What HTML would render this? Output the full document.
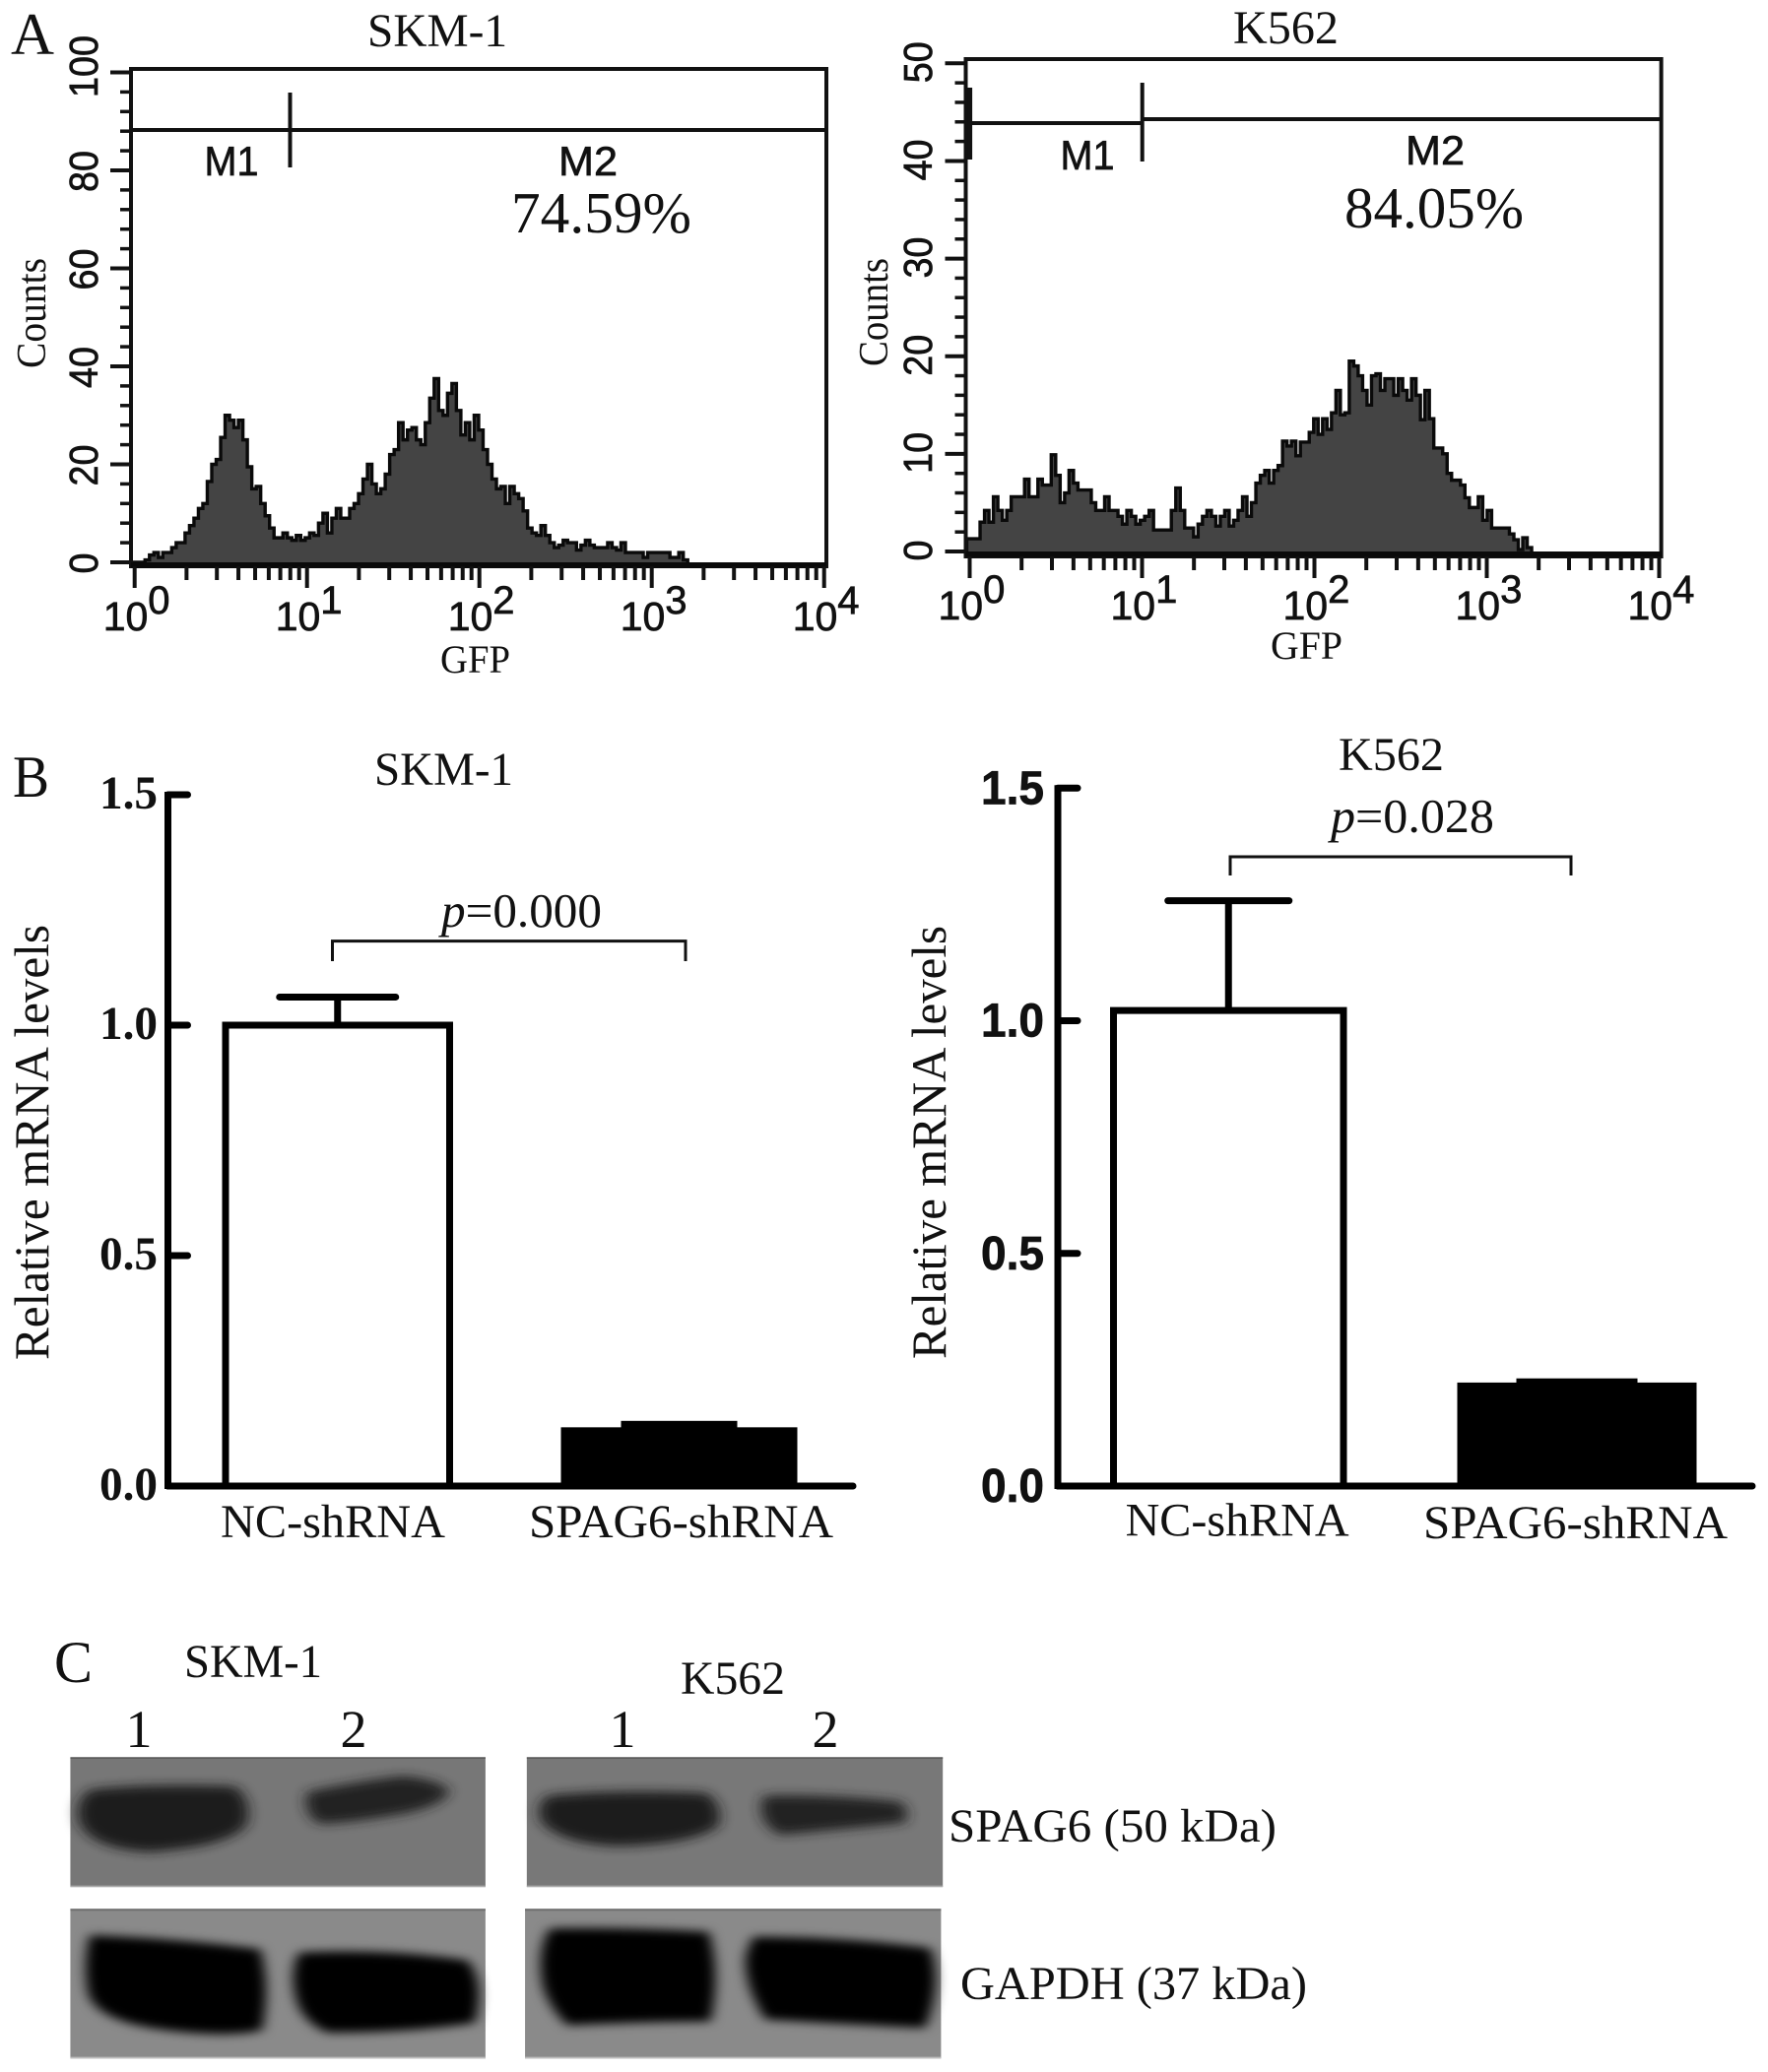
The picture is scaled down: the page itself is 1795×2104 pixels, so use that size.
<!DOCTYPE html>
<html lang="en">
<head>
<meta charset="utf-8">
<title>SPAG6 knockdown in SKM-1 and K562 cells</title>
<style>
  html, body { margin: 0; padding: 0; background: #fff; }
  svg { display: block; }
  text { font-family: "Liberation Serif", serif; fill: #111; }
  .sans { font-family: "Liberation Sans", sans-serif; stroke: #111; stroke-width: 0.7; }
</style>
</head>
<body>
<svg id="figure" xmlns="http://www.w3.org/2000/svg" width="1795" height="2104" viewBox="0 0 1795 2104">
  <defs>
    <filter id="blurBand" x="-30%" y="-30%" width="160%" height="160%"><feGaussianBlur stdDeviation="8 16"/></filter>
    <filter id="blurBandDark" x="-30%" y="-30%" width="160%" height="160%"><feGaussianBlur stdDeviation="7 14"/></filter>
  </defs>
  <rect width="1795" height="2104" fill="#fff"/>

  <!-- Panel labels -->
  <text x="11" y="55" font-size="60" textLength="44" lengthAdjust="spacingAndGlyphs">A</text>
  <text x="13" y="809" font-size="60" textLength="37" lengthAdjust="spacingAndGlyphs">B</text>
  <text x="55" y="1708" font-size="60" textLength="39" lengthAdjust="spacingAndGlyphs">C</text>

  <!-- Panel A static text -->
  <text x="373" y="47" font-size="48" textLength="142" lengthAdjust="spacingAndGlyphs">SKM-1</text>
  <text transform="translate(46,318) rotate(-90)" text-anchor="middle" font-size="42" textLength="112" lengthAdjust="spacingAndGlyphs">Counts</text>
  <text x="447" y="683" font-size="40" textLength="71" lengthAdjust="spacingAndGlyphs">GFP</text>
  <text class="sans" x="235" y="178" text-anchor="middle" font-size="42" textLength="55" lengthAdjust="spacingAndGlyphs">M1</text>
  <text class="sans" x="597" y="178" text-anchor="middle" font-size="42" textLength="60" lengthAdjust="spacingAndGlyphs">M2</text>
  <text x="519" y="236" font-size="59" textLength="183" lengthAdjust="spacingAndGlyphs">74.59%</text>

  <text x="1252" y="44" font-size="48" textLength="107" lengthAdjust="spacingAndGlyphs">K562</text>
  <text transform="translate(901,317) rotate(-90)" text-anchor="middle" font-size="42" textLength="110" lengthAdjust="spacingAndGlyphs">Counts</text>
  <text x="1290" y="669" font-size="40" textLength="73" lengthAdjust="spacingAndGlyphs">GFP</text>
  <text class="sans" x="1104" y="172" text-anchor="middle" font-size="42" textLength="55" lengthAdjust="spacingAndGlyphs">M1</text>
  <text class="sans" x="1457" y="167" text-anchor="middle" font-size="42" textLength="60" lengthAdjust="spacingAndGlyphs">M2</text>
  <text x="1365" y="231" font-size="59" textLength="182" lengthAdjust="spacingAndGlyphs">84.05%</text>

  <!-- Panel B static text -->
  <text x="380" y="797" font-size="48" textLength="141" lengthAdjust="spacingAndGlyphs">SKM-1</text>
  <text transform="translate(49,1160) rotate(-90)" text-anchor="middle" font-size="50" textLength="442" lengthAdjust="spacingAndGlyphs">Relative mRNA levels</text>
  <text x="448" y="941" font-size="49" textLength="163" lengthAdjust="spacingAndGlyphs"><tspan font-style="italic">p</tspan>=0.000</text>

  <text x="1359" y="782" font-size="48" textLength="107" lengthAdjust="spacingAndGlyphs">K562</text>
  <text transform="translate(960,1160) rotate(-90)" text-anchor="middle" font-size="50" textLength="440" lengthAdjust="spacingAndGlyphs">Relative mRNA levels</text>
  <text x="1351" y="845" font-size="49" textLength="166" lengthAdjust="spacingAndGlyphs"><tspan font-style="italic">p</tspan>=0.028</text>

  <!-- Panel C western blots -->
  <g>
    <g transform="translate(0,1640) scale(0.8929,0.3333)">
      <rect x="80" y="433" width="472" height="395" fill="#777"/>
      <rect x="80" y="433" width="472" height="5" fill="#5c5c5c"/>
      <rect x="80" y="824" width="472" height="5" fill="#a8a8a8"/>
      <rect x="599" y="433" width="473" height="395" fill="#787878"/>
      <rect x="599" y="433" width="473" height="5" fill="#5c5c5c"/>
      <rect x="599" y="824" width="473" height="5" fill="#a8a8a8"/>
      <path filter="url(#blurBand)" fill="#1f1f1f" d="M102 532 Q170 512 268 522 Q288 570 280 640 Q262 705 170 722 Q102 712 90 630 Q84 570 102 532 Z"/>
      <path filter="url(#blurBand)" fill="#242424" d="M350 538 Q400 510 458 490 Q500 502 510 532 Q510 572 465 602 Q400 634 362 636 Q342 595 350 538 Z"/>
      <path filter="url(#blurBand)" fill="#1e1e1e" d="M622 550 Q700 530 804 542 Q824 585 816 645 Q785 700 700 704 Q638 696 616 632 Q608 585 622 550 Z"/>
      <path filter="url(#blurBand)" fill="#222" d="M868 550 Q940 545 1024 568 Q1036 600 1028 634 Q960 652 886 670 Q858 625 868 550 Z"/>

      <rect x="80" y="895" width="472" height="456" fill="#8a8a8a"/>
      <rect x="80" y="895" width="472" height="6" fill="#6e6e6e"/>
      <rect x="80" y="1346" width="472" height="5" fill="#bdbdbd"/>
      <rect x="597" y="895" width="473" height="456" fill="#8a8a8a"/>
      <rect x="597" y="895" width="473" height="6" fill="#6e6e6e"/>
      <rect x="597" y="1346" width="473" height="5" fill="#bdbdbd"/>
      <path filter="url(#blurBandDark)" fill="#030303" d="M102 975 Q200 985 296 1018 Q308 1130 298 1265 Q260 1288 190 1265 Q108 1238 100 1150 Q94 1060 102 975 Z"/>
      <path filter="url(#blurBandDark)" fill="#030303" d="M340 1028 Q440 1015 532 1052 Q552 1120 540 1242 Q470 1272 372 1272 Q340 1235 335 1150 Q330 1080 340 1028 Z"/>
      <path filter="url(#blurBandDark)" fill="#030303" d="M625 955 Q700 950 806 965 Q820 1090 808 1238 Q720 1240 645 1250 Q615 1170 615 1080 Q613 1010 625 955 Z"/>
      <path filter="url(#blurBandDark)" fill="#030303" d="M856 980 Q960 980 1058 1015 Q1072 1120 1052 1258 Q950 1245 870 1232 Q845 1125 848 1035 Z"/>
    </g>
  </g>
  <text x="187" y="1703" font-size="48" textLength="140" lengthAdjust="spacingAndGlyphs">SKM-1</text>
  <text x="691" y="1720" font-size="48" textLength="106" lengthAdjust="spacingAndGlyphs">K562</text>
  <text x="141" y="1774" text-anchor="middle" font-size="54">1</text>
  <text x="359" y="1774" text-anchor="middle" font-size="54">2</text>
  <text x="632" y="1774" text-anchor="middle" font-size="54">1</text>
  <text x="838" y="1774" text-anchor="middle" font-size="54">2</text>
  <text x="963" y="1870" font-size="48" textLength="333" lengthAdjust="spacingAndGlyphs">SPAG6 (50 kDa)</text>
  <text x="975" y="2030" font-size="48" textLength="352" lengthAdjust="spacingAndGlyphs">GAPDH (37 kDa)</text>

  <g id="charts"></g>
</svg>

<script>
// ---- Flow histogram data (counts per bin) ----
const skmCounts = [0,0,0,0.5,1.5,2,1,2,2,3,4,4,6,7.5,9,11,12,16.5,20,21,25.5,30,29,27.5,29,25,19.5,15,15.5,12,9.5,7,5,5,6,5,4.5,5.5,4.5,5,6,5.5,8,10,6,9,11,9,9,11,12,14,17,20,16,14,15,18,22,23,28.5,25,27,27.5,25,24,28.5,33.5,37.5,31,30,34.5,36.5,31,26,28.5,25,30,27,23,20,17,15,15.5,12,15.5,14,13,10.5,7,6,5.5,7.5,5.5,4,3,3.5,4.5,4,4,2.5,3.5,4.5,3.5,3,3,3,4,3,2.5,4,2,2,2,2,1,2,2,2,2,2,1,1,2,0.5];
const k562Counts = [1.3,1.3,1.3,3,4.2,3,5.6,4.2,3.2,4.2,5.6,5.6,5.6,7.4,5.6,5.6,7.4,6.8,6.8,9.9,7.8,5,6,8.3,7,6.3,6.3,6.3,5,4.2,4.2,5.6,4.2,4.2,3.6,2.8,4.2,3.6,2.8,3.2,3.6,4.2,2.2,2.2,2.2,2.2,4.2,6.5,4.2,2.4,2.4,1.5,2.8,3.6,4.2,3.6,2.6,3.6,4.2,2.6,3.2,4.2,5.6,3.6,5,7,7.8,8.3,7,8.3,8.8,11.3,10.8,11.3,9.8,11.2,11.2,12.2,13.6,12,13.6,12.5,14.2,16.5,14,14.2,19.5,19,18,16.5,15,18,18.2,16.5,17.7,17.7,16,17.7,16.5,15.5,17.7,16,13.5,16.5,13.6,10.6,10.6,10,8,7.3,7.3,6.8,5.5,4.5,4.5,5.6,3.2,4.2,2.4,2.4,2.4,2.4,1.8,1.2,0.2,1.4,0.4];
const skmCountTicks = [0,20,40,60,80,100];
const k562CountTicks = [0,10,20,30,40,50];
const logDecades = [0,1,2,3,4];
const minorMultipliers = [2,3,4,5,6,7,8,9];

// ---- Bar chart data ----
const barTicks = [0,0.5,1,1.5];
const barTickLabels = ['0.0','0.5','1.0','1.5'];
const barCategories = ['NC-shRNA','SPAG6-shRNA'];
const skmBarValues = [1.0,0.12];
const skmBarErrors = [0.061,0.015];
const k562BarValues = [1.022,0.215];
const k562BarErrors = [0.236,0.01];

const SVG_NS = 'http://www.w3.org/2000/svg';
const root = document.getElementById('charts');

function make(tag, attrs, parent) {
  const node = document.createElementNS(SVG_NS, tag);
  for (const k in attrs) node.setAttribute(k, attrs[k]);
  parent.appendChild(node);
  return node;
}

function drawFlow(cfg) {
  const g = make('g', {}, root);
  
  

  const yScale = v => cfg.y0 + (cfg.yMax - cfg.y0) * v / cfg.countMax;
  const xScale = v => cfg.x0 + cfg.decade * Math.log10(v);

  // histogram
  const binPerDecade = 38.75;
  const binEdge = i => xScale(Math.pow(10, i / binPerDecade)) - 3;
  let d = 'M' + binEdge(0) + ' ' + cfg.baseline;
  cfg.counts.forEach((c, i) => {
    d += ' L' + binEdge(i) + ' ' + yScale(c) + ' L' + binEdge(i + 1) + ' ' + yScale(c);
  });
  d += ' L' + binEdge(cfg.counts.length) + ' ' + cfg.baseline + ' Z';
  const hist = make('path', {d: d, fill: '#444', stroke: '#0a0a0a', 'stroke-width': 3.4, 'stroke-linejoin': 'miter'}, g);
  
  

  // frame
  const frame = make('rect', {x: cfg.left, y: cfg.top, width: cfg.right - cfg.left, height: cfg.bottom - cfg.top, fill: 'none', stroke: '#111', 'stroke-width': 4}, g);
  
  
  const base = make('line', {x1: cfg.left, x2: cfg.right, y1: cfg.baseline, y2: cfg.baseline, stroke: '#0a0a0a', 'stroke-width': 6}, g);
  
  

  // y ticks and labels
  const step = cfg.countTicks[1] - cfg.countTicks[0];
  cfg.countTicks.forEach((t, idx) => {
    const major = make('line', {x1: cfg.left - 21, x2: cfg.left, y1: yScale(t), y2: yScale(t), stroke: '#111', 'stroke-width': 4}, g);
    
    
    const shift = String(t).length > 2 ? -6 : cfg.labelShift;
    const label = make('text', {transform: 'translate(' + cfg.yLabelX + ',' + (yScale(t) + shift) + ') rotate(-90) scale(0.92,1)', 'text-anchor': 'middle', 'font-size': 41, class: 'sans'}, g);
    
    
    label.textContent = t;
    if (idx < cfg.countTicks.length - 1) {
      for (let m = 1; m < 5; m++) {
        const v = t + step * m / 5;
        const minor = make('line', {x1: cfg.left - 11, x2: cfg.left, y1: yScale(v), y2: yScale(v), stroke: '#111', 'stroke-width': 3.5}, g);
        
        
      }
    }
  });

  // x ticks and labels
  logDecades.forEach(dec => {
    const v = Math.pow(10, dec);
    const tick = make('line', {x1: xScale(v), x2: xScale(v), y1: cfg.bottom, y2: cfg.bottom + 22, stroke: '#111', 'stroke-width': 4}, g);
    
    
    const label = make('text', {x: xScale(v) - 32, y: cfg.xLabelY, 'font-size': 41, class: 'sans'}, g);
    
    
    label.textContent = '10';
    const sup = make('tspan', {dy: -17, 'font-size': 40}, label);
    sup.textContent = dec;
    if (dec < 4) {
      minorMultipliers.forEach(mult => {
        const mx = xScale(mult * v);
        const minor = make('line', {x1: mx, x2: mx, y1: cfg.bottom, y2: cfg.bottom + 14, stroke: '#111', 'stroke-width': 4}, g);
        
        
      });
    }
  });

  // gate markers
  cfg.gates.forEach(gt => {
    const line = make('line', {x1: gt.x1, x2: gt.x2, y1: gt.y1, y2: gt.y2, stroke: '#111', 'stroke-width': gt.w}, g);
    
    
  });
}

function drawBars(cfg) {
  const g = make('g', {}, root);
  
  

  const yScale = v => cfg.y0 - cfg.unit * v;
  const black = '#000';

  cfg.values.forEach((v, i) => {
    const left = cfg.barX[i], w = cfg.barW[i], filled = i === 1;
    const errTop = yScale(v + cfg.errors[i]);
    const mid = left + w / 2;
    if (filled) {
      const capBlock = make('rect', {x: mid - cfg.capW / 2, y: errTop - 3, width: cfg.capW, height: yScale(v) - errTop + 6, fill: black}, g);
      
      
    } else {
      const stem = make('line', {x1: mid, x2: mid, y1: errTop, y2: yScale(v), stroke: black, 'stroke-width': 7}, g);
      
      
      const cap = make('line', {x1: mid - cfg.capW / 2, x2: mid + cfg.capW / 2, y1: errTop, y2: errTop, stroke: black, 'stroke-width': 7, 'stroke-linecap': 'round'}, g);
      
      
    }
    const bar = make('rect', {x: left, y: yScale(v), width: w, height: yScale(0) - yScale(v), fill: filled ? black : '#fff', stroke: black, 'stroke-width': 7}, g);
    
    
    const cat = make('text', {x: cfg.catX[i], y: cfg.catY[i], 'font-size': 48, textLength: cfg.catW[i], lengthAdjust: 'spacingAndGlyphs'}, g);
    
    
    cat.textContent = barCategories[i];
  });

  const yAxis = make('line', {x1: cfg.axisX, x2: cfg.axisX, y1: yScale(1.5) - 3, y2: yScale(0) + 3, stroke: black, 'stroke-width': 7}, g);
  
  
  const xAxis = make('line', {x1: cfg.axisX, x2: cfg.axisEnd, y1: yScale(0), y2: yScale(0), stroke: black, 'stroke-width': 7, 'stroke-linecap': 'round'}, g);
  
  

  barTicks.forEach((t, i) => {
    const tick = make('line', {x1: cfg.axisX, x2: cfg.axisX + 20, y1: yScale(t), y2: yScale(t), stroke: black, 'stroke-width': 7, 'stroke-linecap': 'round'}, g);
    
    
    const label = make('text', {x: cfg.tickX, y: yScale(t) + cfg.tickDy, 'font-size': 48, 'font-weight': 'bold', class: cfg.tickClass, textLength: cfg.tickW, lengthAdjust: 'spacingAndGlyphs'}, g);
    
    
    label.textContent = barTickLabels[i];
  });

  const b = cfg.bracket;
  const bracket = make('path', {d: 'M' + b.x1 + ' ' + b.y2 + ' V' + b.y1 + ' H' + b.x2 + ' V' + b.y2, fill: 'none', stroke: '#111', 'stroke-width': 3}, g);
  
  
}

drawFlow({
  name: 'flow-histogram-skm1', counts: skmCounts, countTicks: skmCountTicks, countMax: 100,
  x0: 136.7, decade: 175, y0: 571, yMax: 73.5, baseline: 574, labelShift: 1,
  left: 133, right: 839, top: 70, bottom: 575, yLabelX: 99, xLabelY: 640,
  gates: [
    {x1: 133, x2: 839, y1: 132, y2: 132, w: 4},
    {x1: 294.5, x2: 294.5, y1: 94, y2: 170, w: 4}
  ]
});
drawFlow({
  name: 'flow-histogram-k562', counts: k562Counts, countTicks: k562CountTicks, countMax: 50,
  x0: 984.5, decade: 175, y0: 560, yMax: 64.3, baseline: 563, labelShift: -1,
  left: 980.5, right: 1686.6, top: 60, bottom: 565, yLabelX: 946, xLabelY: 629,
  gates: [
    {x1: 980, x2: 1160, y1: 125, y2: 125, w: 4},
    {x1: 1160, x2: 1686, y1: 121, y2: 121, w: 4},
    {x1: 1159.7, x2: 1159.7, y1: 84, y2: 164, w: 4},
    {x1: 984.6, x2: 984.6, y1: 89, y2: 162, w: 5}
  ]
});
drawBars({
  name: 'bar-chart-skm1', values: skmBarValues, errors: skmBarErrors,
  y0: 1509, unit: 468, axisX: 170.5, axisEnd: 866,
  barX: [229, 573], barW: [227.5, 233], capW: 118,
  catX: [224, 537], catY: [1561, 1561], catW: [228, 309],
  tickX: 101, tickDy: 14, tickW: 59, tickClass: '',
  bracket: {x1: 337.5, x2: 696, y1: 955.6, y2: 976}
});
drawBars({
  name: 'bar-chart-k562', values: k562BarValues, errors: k562BarErrors,
  y0: 1509, unit: 472.5, axisX: 1074, axisEnd: 1779,
  barX: [1130.5, 1483], barW: [233.5, 236], capW: 123,
  catX: [1142.6, 1445], catY: [1559.6, 1562], catW: [227, 309],
  tickX: 996, tickDy: 16, tickW: 64, tickClass: 'sans',
  bracket: {x1: 1249, x2: 1595, y1: 870, y2: 889}
});
</script>
</body>
</html>
